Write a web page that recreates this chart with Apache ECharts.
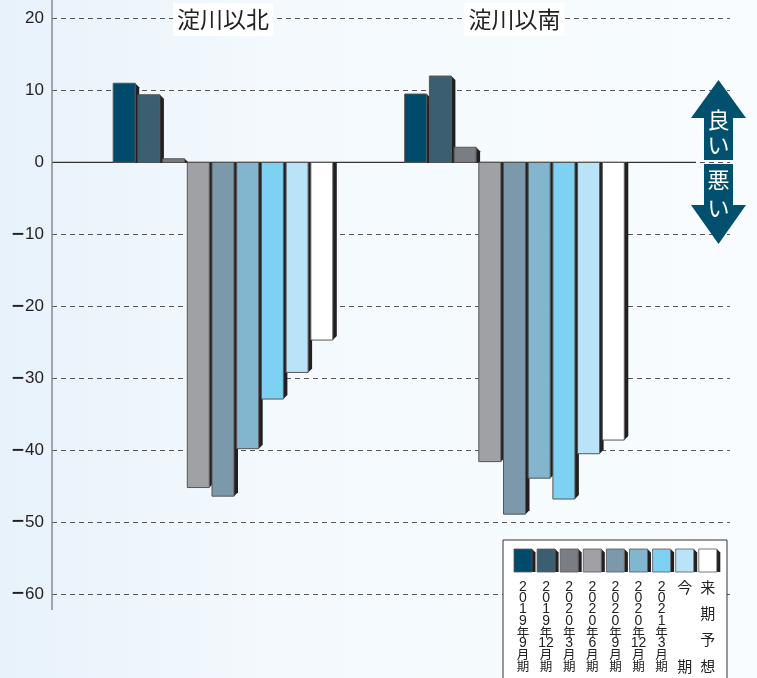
<!DOCTYPE html>
<html>
<head>
<meta charset="utf-8">
<script src="https://cdn.jsdelivr.net/npm/echarts@6/dist/echarts.min.js"></script>
<style>
html,body{margin:0;padding:0;background:#fff;}
#chart{width:757px;height:678px;}
</style>
</head>
<body>
<div id="chart"></div>
<script>
// ---- data ----
const categories = ['淀川以北', '淀川以南'];
const periods = ['2019年9月期', '2019年12月期', '2020年3月期', '2020年6月期', '2020年9月期', '2020年12月期', '2021年3月期', '今期', '来期予想'];
const valuesNorth = [11.0, 9.4, 0.5, -45.2, -46.4, -39.8, -32.9, -29.2, -24.7];
const valuesSouth = [9.5, 12.0, 2.1, -41.6, -48.9, -43.9, -46.8, -40.5, -38.6];
const yMin = -60, yMax = 20, yStep = 10;
const arrowUpText = ['良', 'い'];
const arrowDownText = ['悪', 'い'];

// ---- style ----
const colors = ['#004B6B', '#3B5E70', '#7A7D82', '#A0A1A5', '#7B99AA', '#82B6CF', '#7DD2F4', '#B9E4F8', '#FFFFFF'];
const SIDE = '#231F20';
const BAR_W = 22, STEP = 24.7, DEPTH = 4;
const GRID_TOP = 18.5, GRID_BOTTOM = 84;
const CJK = '"Noto Sans CJK JP", "Noto Sans", sans-serif';

const chart = echarts.init(document.getElementById('chart'));

function renderBar(idx) {
  return function (params, api) {
    const cat = api.value(0), v = api.value(1);
    const base = api.coord([cat, 0]);
    const tip = api.coord([cat, v]);
    const cx = base[0] + (idx - 4) * STEP;
    const xL = cx - BAR_W / 2, xR = xL + BAR_W;
    const y0 = base[1], yv = tip[1];
    let rect, side;
    if (v >= 0) {
      rect = { x: xL, y: yv, width: BAR_W, height: y0 - yv };
      const d = Math.min(DEPTH, y0 - yv);
      side = [[xR, yv], [xR + DEPTH, yv + d], [xR + DEPTH, y0], [xR, y0]];
    } else {
      rect = { x: xL, y: y0, width: BAR_W, height: yv - y0 };
      side = [[xR, y0], [xR + DEPTH, y0], [xR + DEPTH, yv - DEPTH], [xR, yv]];
    }
    return {
      type: 'group',
      children: [
        { type: 'polygon', shape: { points: side }, style: { fill: SIDE } },
        { type: 'rect', shape: rect, style: { fill: colors[idx], stroke: '#555', lineWidth: 1 } }
      ]
    };
  };
}

const series = periods.map((p, i) => ({
  type: 'custom',
  name: p,
  xAxisIndex: 1,
  yAxisIndex: 1,
  renderItem: renderBar(i),
  data: [[0, valuesNorth[i]], [1, valuesSouth[i]]],
  z: 5 + i
}));
series.push({ type: 'line', xAxisIndex: 0, yAxisIndex: 0, data: [], silent: true });

const option = {
  animation: false,
  backgroundColor: {
    type: 'linear', x: 0, y: 0, x2: 1, y2: 0,
    colorStops: [{ offset: 0, color: '#E8F2FB' }, { offset: 0.35, color: '#F3F9FD' }, { offset: 1, color: '#F8FCFE' }]
  },
  grid: [
    { left: 52, right: 27, top: GRID_TOP, bottom: GRID_BOTTOM },
    { left: 77.25, right: 96.75, top: GRID_TOP, bottom: GRID_BOTTOM }
  ],
  xAxis: [
    { type: 'value', gridIndex: 0, min: 0, max: 1, show: false },
    {
      type: 'category', gridIndex: 1, data: categories, position: 'top',
      axisLine: { show: false }, axisTick: { show: false }, splitLine: { show: false },
      axisLabel: {
        fontFamily: CJK, fontSize: 23, color: '#222', margin: -1,
        verticalAlign: 'middle', backgroundColor: '#FFFFFF', padding: [5, 4, 5, 4]
      },
      z: 20
    }
  ],
  yAxis: [
    {
      type: 'value', gridIndex: 0, min: yMin, max: yMax, interval: yStep,
      axisLine: { show: false }, axisTick: { show: false },
      axisLabel: {
        fontFamily: '"Liberation Sans", Arial, sans-serif', fontSize: 17, color: '#231F20', margin: 8,
        formatter: v => (v < 0 ? '{m|\u2212}' + Math.abs(v) : String(v)),
        rich: { m: { fontFamily: '"DejaVu Sans", sans-serif', fontSize: 17, fontWeight: 'bold', color: '#231F20' } }
      },
      splitLine: { lineStyle: { color: '#555', type: [5, 4], width: 1 } }
    },
    { type: 'value', gridIndex: 1, min: yMin, max: yMax, interval: yStep, show: false, splitLine: { show: false } }
  ],
  series: series
};
chart.setOption(option);

// ---- decorations: axis line, zero line, arrow, legend ----
const zeroY = chart.convertToPixel({ yAxisIndex: 0 }, 0);
const g = [];
g.push({ type: 'line', shape: { x1: 52, y1: 0, x2: 52, y2: 610 }, style: { stroke: '#8A8A8A', lineWidth: 1.5 }, z: 10 });
g.push({ type: 'line', shape: { x1: 52, y1: zeroY, x2: 696, y2: zeroY }, style: { stroke: '#333', lineWidth: 1.2 }, z: 3 });

// arrow
const AC = 718.5, AH = 27.5, AS = 14.5, ACOL = '#00506E';
g.push({ type: 'polygon', shape: { points: [[AC, 80], [AC + AH, 118], [AC + AS, 118], [AC + AS, 160], [AC - AS, 160], [AC - AS, 118], [AC - AH, 118]] }, style: { fill: ACOL }, z: 30 });
g.push({ type: 'polygon', shape: { points: [[AC - AS, 164], [AC + AS, 164], [AC + AS, 205], [AC + AH, 205], [AC, 244], [AC - AH, 205], [AC - AS, 205]] }, style: { fill: ACOL }, z: 30 });
const upY = [120, 145], downY = [180, 208];
arrowUpText.forEach((t, k) => g.push({ type: 'text', x: AC, y: upY[k], style: { text: t, fill: '#fff', font: '22px ' + CJK, align: 'center', verticalAlign: 'middle' }, z: 31 }));
arrowDownText.forEach((t, k) => g.push({ type: 'text', x: AC, y: downY[k], style: { text: t, fill: '#fff', font: '22px ' + CJK, align: 'center', verticalAlign: 'middle' }, z: 31 }));

// legend
g.push({ type: 'rect', shape: { x: 503, y: 540, width: 224, height: 160 }, style: { fill: '#FFFFFF', stroke: '#333', lineWidth: 1 }, z: 40 });
const LX0 = 514, LSTEP = 23.1, SW = 18, SH = 23, SY = 549;
periods.forEach((p, j) => {
  const x = LX0 + j * LSTEP;
  g.push({ type: 'polygon', shape: { points: [[x + SW, SY], [x + SW + 3.5, SY + 3.5], [x + SW + 3.5, SY + SH], [x + SW, SY + SH]] }, style: { fill: SIDE }, z: 41 });
  g.push({ type: 'rect', shape: { x: x, y: SY, width: SW, height: SH }, style: { fill: colors[j], stroke: '#555', lineWidth: 0.8 }, z: 42 });
  const toks = p.match(/\d{1,2}(?=月)|./g);
  const big = toks.length < 8;
  const y1 = 587, y2 = 666;
  toks.forEach((t, k) => {
    const y = toks.length > 1 ? y1 + k * (y2 - y1) / (toks.length - 1) : y1;
    const isDigit = /^\d+$/.test(t);
    const font = big ? '15px ' + CJK : (isDigit ? '14px "Liberation Sans", sans-serif' : '12.5px ' + CJK);
    g.push({ type: 'text', x: x + SW / 2, y: y, style: { text: t, fill: '#222', font: font, align: 'center', verticalAlign: 'middle' }, z: 43 });
  });
});
chart.setOption({ graphic: { elements: g } });
</script>
</body>
</html>
